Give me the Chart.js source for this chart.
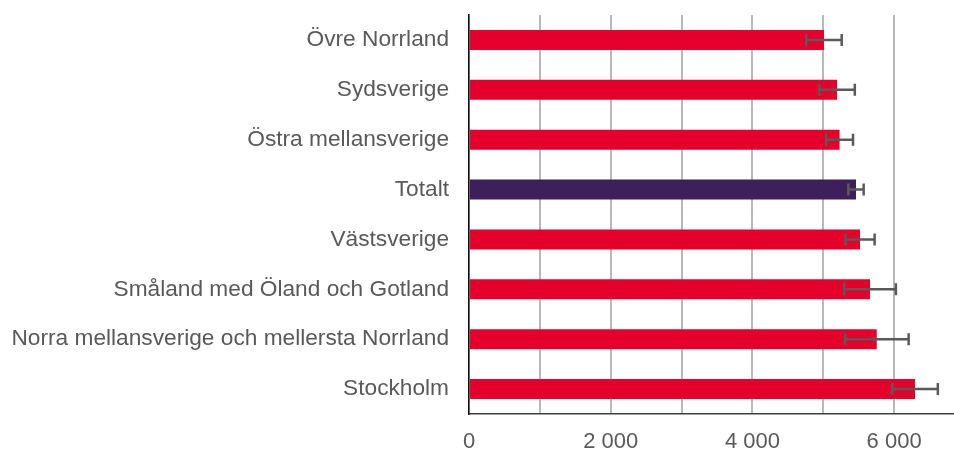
<!DOCTYPE html>
<html>
<head>
<meta charset="utf-8">
<script src="https://cdn.jsdelivr.net/npm/chart.js@4/dist/chart.umd.min.js"></script>
<style>
  html, body { margin: 0; padding: 0; background: #fff; overflow: hidden; }
  #wrap { width: 954px; height: 450px; }
</style>
</head>
<body>
<div id="wrap"><canvas id="myChart" width="954" height="450"></canvas></div>
<script>
const regions = [
    'Övre Norrland',
    'Sydsverige',
    'Östra mellansverige',
    'Totalt',
    'Västsverige',
    'Småland med Öland och Gotland',
    'Norra mellansverige och mellersta Norrland',
    'Stockholm'
];
const values = [5010, 5195, 5230, 5462, 5519, 5660, 5755, 6295];
const errors = [250, 250, 190, 108, 206, 365, 450, 322];
const gridValues = [0, 1000, 2000, 3000, 4000, 5000, 6000];
const xTicks = [0, 2000, 4000, 6000];

const red = '#e4002b';
const purple = '#3d1f5c';
const barColors = regions.map(r => r === 'Totalt' ? purple : red);

// Felstaplar ritas efter staplarna
const errorBars = {
    id: 'errorBars',
    afterDatasetsDraw(chart) {
        const ctx = chart.ctx;
        const xScale = chart.scales.x;
        const meta = chart.getDatasetMeta(0);
        ctx.save();
        ctx.strokeStyle = '#5a5a5a';
        ctx.lineWidth = 2.5;
        meta.data.forEach((bar, i) => {
            const y = bar.y;
            const x1 = xScale.getPixelForValue(values[i] - errors[i]);
            const x2 = xScale.getPixelForValue(values[i] + errors[i]);
            ctx.beginPath();
            ctx.moveTo(x1, y);
            ctx.lineTo(x2, y);
            ctx.moveTo(x1, y - 6);
            ctx.lineTo(x1, y + 6);
            ctx.moveTo(x2, y - 6);
            ctx.lineTo(x2, y + 6);
            ctx.stroke();
        });
        ctx.restore();
    }
};

const fmt = (v) => String(v).replace(/\B(?=(\d{3})+(?!\d))/g, ' ');

const ctx = document.getElementById('myChart').getContext('2d');
new Chart(ctx, {
    type: 'bar',
    data: {
        labels: regions,
        datasets: [{
            data: values,
            backgroundColor: barColors,
            barPercentage: 0.4,
            categoryPercentage: 1
        }]
    },
    options: {
        indexAxis: 'y',
        responsive: false,
        animation: false,
        layout: { padding: { top: 15, right: 0, bottom: 0, left: 0 } },
        plugins: {
            legend: { display: false },
            tooltip: { enabled: false }
        },
        scales: {
            x: {
                min: 0,
                max: 6845,
                // axeln slutar vid bildkanten, rutnät bara var 1000
                afterBuildTicks: (s) => {
                    s.ticks = gridValues.map(v => ({ value: v }));
                },
                afterFit: (s) => { s.height = 36; s.paddingRight = 0; },
                ticks: {
                    padding: 15,
                    color: '#595959',
                    font: { family: 'Liberation Sans', size: 22 },
                    maxRotation: 0,
                    autoSkip: false,
                    callback: (v) => xTicks.includes(v) ? fmt(v) : ''
                },
                grid: {
                    drawTicks: false,
                    color: '#b8b8b8',
                    lineWidth: 2
                },
                border: { color: '#404040', width: 1.5 }
            },
            y: {
                afterFit: (s) => { s.width = 469; s.paddingTop = 0; s.paddingBottom = 0; },
                ticks: {
                    padding: 20,
                    color: '#595959',
                    font: { family: 'Liberation Sans', size: 22.7 }
                },
                grid: { display: false, drawTicks: false },
                border: { color: '#111', width: 1.5, z: 1 }
            }
        }
    },
    plugins: [errorBars]
});
</script>
</body>
</html>
